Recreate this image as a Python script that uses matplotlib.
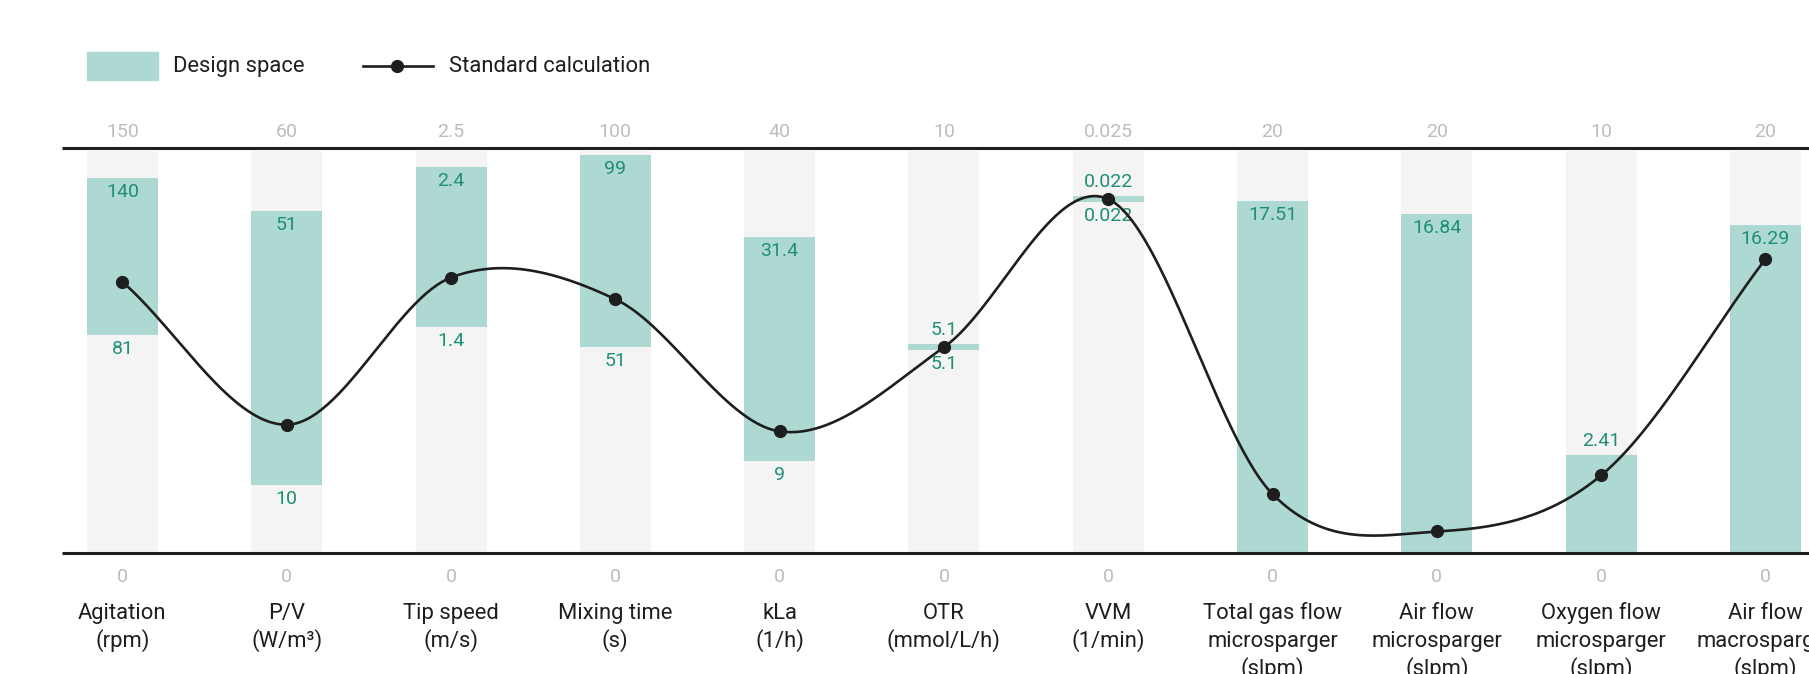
import numpy as np
import matplotlib
matplotlib.use("Agg")
import matplotlib.pyplot as plt
from matplotlib.patches import Rectangle

# ---------------- data ----------------
categories = ["Agitation\n(rpm)", "P/V\n(W/m³)", "Tip speed\n(m/s)", "Mixing time\n(s)",
              "kLa\n(1/h)", "OTR\n(mmol/L/h)", "VVM\n(1/min)",
              "Total gas flow\nmicrosparger\n(slpm)", "Air flow\nmicrosparger\n(slpm)",
              "Oxygen flow\nmicrosparger\n(slpm)", "Air flow\nmacrosparger\n(slpm)"]
axis_max = [150, 60, 2.5, 100, 40, 10, 0.025, 20, 20, 10, 20]
axis_min = [0, 0, 0, 0, 0, 0, 0, 0, 0, 0, 0]
design_low = [81, 10, 1.4, 51, 9, 5.1, 0.022, 0, 0, 0, 0]
design_high = [140, 51, 2.4, 99, 31.4, 5.1, 0.022, 17.51, 16.84, 2.41, 16.29]
standard_calc = [101, 19, 1.71, 63, 12, 5.1, 0.022, 2.87, 1.0, 1.9, 14.6]

# ---------------- style ----------------
FONT = ["Roboto", "DejaVu Sans"]
plt.rcParams["font.family"] = FONT
TEAL = "#aed8d2"
TEAL_TXT = "#1f8f78"
GRAY_BAR = "#f4f4f4"
GRAY_TXT = "#bdbdbd"
DARK = "#1e1e1e"

W, H = 1809, 674
fig = plt.figure(figsize=(W / 100, H / 100), dpi=100)
ax = fig.add_axes([0, 0, 1, 1])

x0_px, dx_px = 122.4, 164.3
y_top_px, y_bot_px = 151.0, 551.5
pix = 1.0 / (y_bot_px - y_top_px)
ax.set_xlim(-x0_px / dx_px, (W - x0_px) / dx_px)
ax.set_ylim(-(H - y_bot_px) * pix, 1 + y_top_px * pix)
ax.axis("off")


def px(xp, yp):
    return (xp - x0_px) / dx_px, 1 - (yp - y_top_px) * pix


def fmt(v):
    return f"{v:g}"


n = len(categories)
xs = np.arange(n)
bw = 71 / dx_px
min_h = 6 * pix
off = 14 * pix

for i in range(n):
    ax.bar(i, 1, width=bw, bottom=0, color=GRAY_BAR, zorder=1)
    span = axis_max[i] - axis_min[i]
    lo = (design_low[i] - axis_min[i]) / span
    hi = (design_high[i] - axis_min[i]) / span
    if hi - lo < min_h:
        c = (hi + lo) / 2
        b_lo, b_hi = c - min_h / 2, c + min_h / 2
    else:
        b_lo, b_hi = lo, hi
    ax.bar(i, b_hi - b_lo, width=bw, bottom=b_lo, color=TEAL, zorder=2)
    outside = (hi - lo) < 0.3
    if outside:
        ax.text(i, b_hi + off, fmt(design_high[i]), ha="center", va="center",
                fontsize=14, color=TEAL_TXT, zorder=5)
    else:
        ax.text(i, b_hi - off, fmt(design_high[i]), ha="center", va="center",
                fontsize=14, color=TEAL_TXT, zorder=5)
    if design_low[i] > axis_min[i]:
        ax.text(i, b_lo - off, fmt(design_low[i]), ha="center", va="center",
                fontsize=14, color=TEAL_TXT, zorder=5)
    # axis end labels
    ax.text(i, 1 + 19 * pix, fmt(axis_max[i]), ha="center", va="center",
            fontsize=14, color=GRAY_TXT)
    ax.text(i, -26 * pix, fmt(axis_min[i]), ha="center", va="center",
            fontsize=14, color=GRAY_TXT)
    for k, line in enumerate(categories[i].split("\n")):
        ax.text(i, -(613.5 - y_bot_px + 27.5 * k) * pix, line, ha="center",
                va="center", fontsize=15.8, color=DARK)

# top and bottom rules
xl = (62 - x0_px) / dx_px
xr = ax.get_xlim()[1]
ax.plot([xl, xr], [1 + 3 * pix] * 2, color=DARK, lw=2.2, solid_capstyle="butt", zorder=3)
ax.plot([xl, xr], [-1.5 * pix] * 2, color=DARK, lw=2.2, solid_capstyle="butt", zorder=3)


# cardinal (Catmull-Rom) spline through standard calculation points
def catmull_rom(x, y, num=60):
    x = np.asarray(x, float)
    y = np.asarray(y, float)
    m = len(x)
    tx = np.zeros(m)
    ty = np.zeros(m)
    for j in range(m):
        a = max(j - 1, 0)
        b = min(j + 1, m - 1)
        tx[j] = (x[b] - x[a]) / (2 if 0 < j < m - 1 else 1)
        ty[j] = (y[b] - y[a]) / (2 if 0 < j < m - 1 else 1)
    xo, yo = [], []
    for j in range(m - 1):
        t = np.linspace(0, 1, num, endpoint=(j == m - 2))
        h00 = 2 * t ** 3 - 3 * t ** 2 + 1
        h10 = t ** 3 - 2 * t ** 2 + t
        h01 = -2 * t ** 3 + 3 * t ** 2
        h11 = t ** 3 - t ** 2
        xo.append(h00 * x[j] + h10 * tx[j] + h01 * x[j + 1] + h11 * tx[j + 1])
        yo.append(h00 * y[j] + h10 * ty[j] + h01 * y[j + 1] + h11 * ty[j + 1])
    return np.concatenate(xo), np.concatenate(yo)


norm_std = [(standard_calc[i] - axis_min[i]) / (axis_max[i] - axis_min[i]) for i in range(n)]
sx, sy = catmull_rom(xs, norm_std)
ax.plot(sx, sy, color=DARK, lw=1.9, zorder=6)
ax.plot(xs, norm_std, "o", color=DARK, ms=8.5, zorder=7)

# legend
lx0, ly0 = px(86.5, 52)
lx1, ly1 = px(158, 79.6)
ax.add_patch(Rectangle((lx0, ly1), lx1 - lx0, ly0 - ly1, color=TEAL, clip_on=False))
tx, ty = px(173, 66.5)
ax.text(tx, ty, "Design space", ha="left", va="center", fontsize=15.8, color=DARK)
a0, ay = px(363, 66)
a1, _ = px(433, 66)
am, _ = px(397, 66)
ax.plot([a0, a1], [ay, ay], color=DARK, lw=1.9, clip_on=False)
ax.plot([am], [ay], "o", color=DARK, ms=8.5, clip_on=False)
tx2, _ = px(449, 66)
ax.text(tx2, ty, "Standard calculation", ha="left", va="center", fontsize=15.8, color=DARK)

fig.savefig("out.png", dpi=100)
